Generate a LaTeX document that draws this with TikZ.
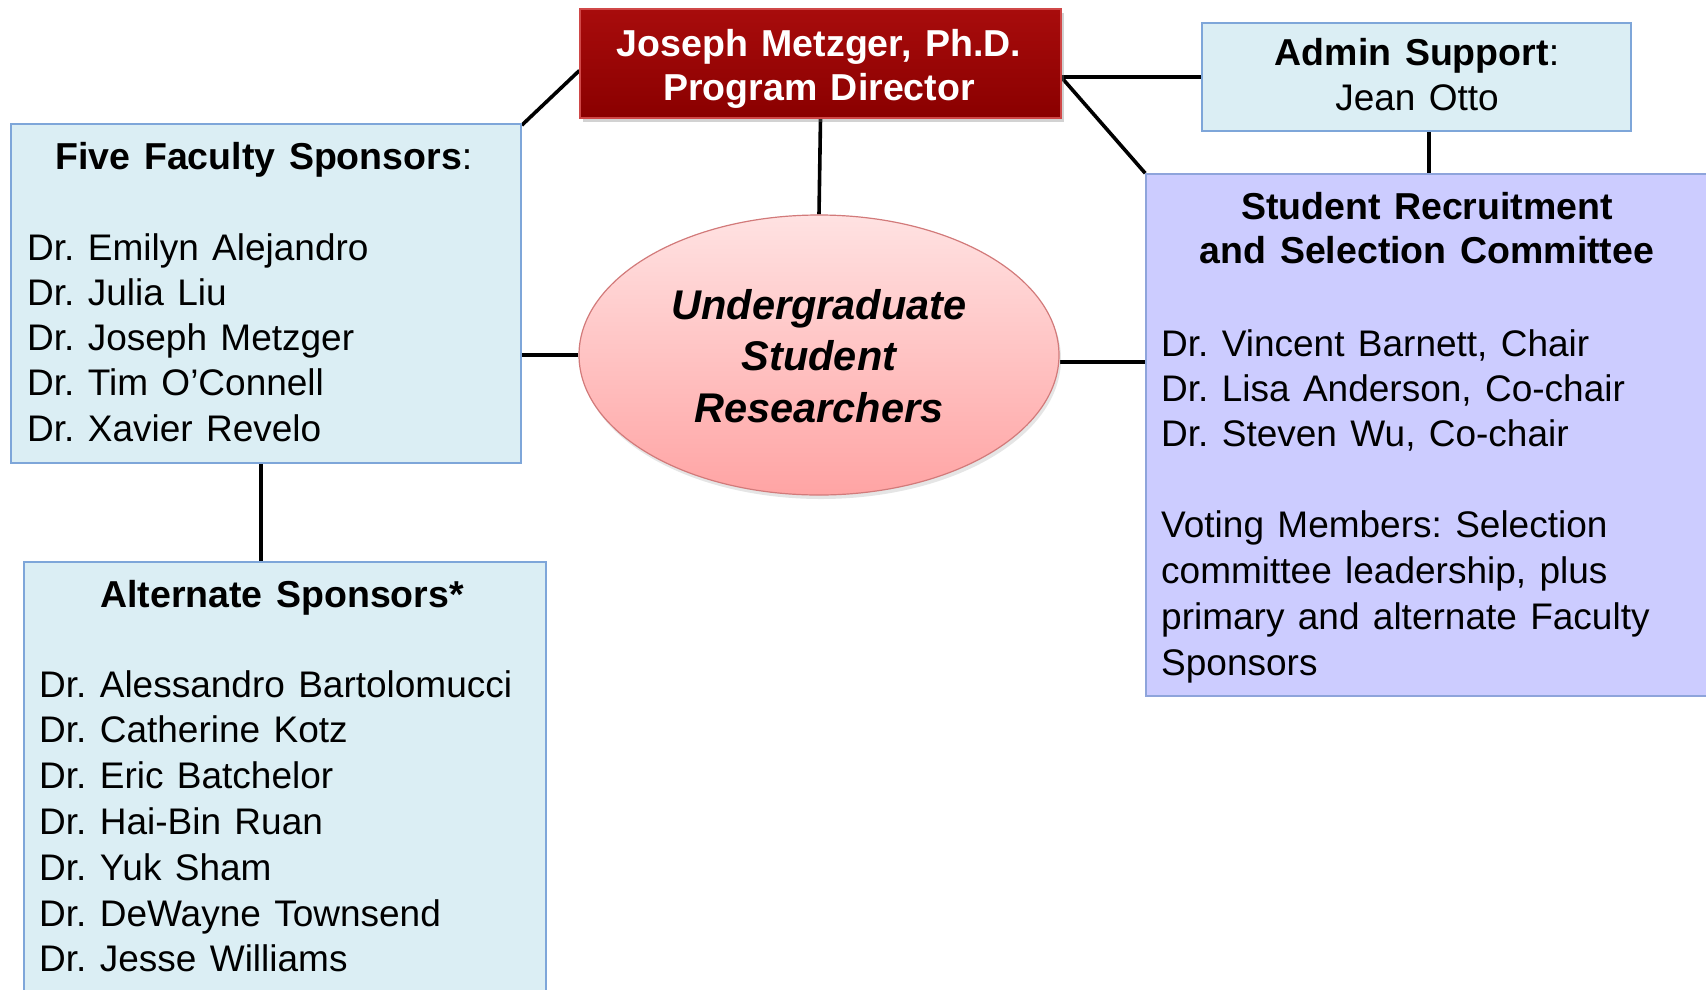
\documentclass[tikz,border=0pt]{standalone}
\usepackage{fontspec}
\setmainfont{Liberation Sans}[WordSpace=1.3]
\usetikzlibrary{shapes.geometric,shadows,calc}
\definecolor{lblue}{HTML}{DBEEF4}
\definecolor{lblueborder}{HTML}{7EA6D9}
\definecolor{lav}{HTML}{CCCCFF}
\definecolor{lavborder}{HTML}{8EA4DB}
\definecolor{dredtop}{HTML}{A80C0C}
\definecolor{dredbot}{HTML}{8A0000}
\definecolor{dredborder}{HTML}{D04848}
\definecolor{pinktop}{HTML}{FFE2E2}
\definecolor{pinkbot}{HTML}{FFA4A4}
\definecolor{pinkborder}{HTML}{D27A7A}
\pgfdeclarelayer{bg}\pgfdeclarelayer{lines}\pgfsetlayers{bg,lines,main}
\frenchspacing
\begin{document}
\begin{tikzpicture}[x=1pt,y=-1pt,
  bluebox/.style={draw=lblueborder,fill=lblue,line width=1.6pt,rectangle,inner sep=0pt},
  lavbox/.style={draw=lavborder,fill=lav,line width=1.6pt,rectangle,inner sep=0pt},
  txt/.style={font=\fontsize{37}{44}\selectfont,inner sep=0pt,anchor=base west},
  ttl/.style={font=\fontsize{37.5}{44}\selectfont\bfseries,inner sep=0pt,anchor=base},
  elltxt/.style={font=\fontsize{41.5}{52}\selectfont\bfseries\itshape,inner sep=0pt,anchor=base},
  conn/.style={line width=3.6pt,black}]
\useasboundingbox (0,0) rectangle (1706,989);
\begin{pgfonlayer}{bg}
\fill[white] (0,0) rectangle (1706,989);
\end{pgfonlayer}

% boxes
\node[rectangle,draw=dredborder,line width=1.2pt,top color=dredtop,bottom color=dredbot,
  minimum width=481pt,minimum height=109pt,inner sep=0pt,
  drop shadow={opacity=0.35,shadow xshift=3pt,shadow yshift=-4pt}] (dir) at (820.5,63.5) {};
\node[bluebox,minimum width=429pt,minimum height=108pt] (adm) at (1416.5,77) {};
\node[lavbox,minimum width=566pt,minimum height=522pt] (sr) at (1429,435) {};
\node[bluebox,minimum width=510pt,minimum height=339pt] (fac) at (266,293.5) {};
\node[bluebox,minimum width=522pt,minimum height=438pt] (alt) at (285,781) {};
\node[ellipse,draw=pinkborder,line width=1.2pt,top color=pinktop,bottom color=pinkbot,
  minimum width=480pt,minimum height=280pt,inner sep=0pt,
  drop shadow={opacity=0.2,shadow xshift=2pt,shadow yshift=-4pt}] (ell) at (819,355) {};

% connectors
\begin{pgfonlayer}{lines}
\draw[conn] ([yshift=-7pt]dir.west) -- ([yshift=-2pt]fac.north east);
\draw[conn] (dir.south) -- (ell.north);
\draw[conn] (adm.west) -- (adm.west -| dir.east);
\draw[conn] ([yshift=-14pt]dir.east) -- (sr.north west);
\draw[conn] (sr.north) -- (sr.north |- adm.south);
\draw[conn] (ell.west) -- (ell.west -| fac.east);
\draw[conn] ([yshift=-7pt]ell.east) coordinate (e1) -- (e1 -| sr.west);
\draw[conn] ([xshift=-5pt]fac.south) coordinate (f1) -- (f1 |- alt.north);
\end{pgfonlayer}

% director text
\node[ttl,text=white] (dir1) at (819,56) {Joseph Metzger, Ph.D.};
\node[ttl,text=white] (dir2) at (819,100) {Program Director};

% admin text
\node[ttl] (adm1) at (1417,65) {Admin Support\mdseries:};
\node[txt,anchor=base] (adm2) at (1417,110) {Jean Otto};

% ellipse text
\node[elltxt] (ell1) at (819,319) {Undergraduate};
\node[elltxt] (ell2) at (819,370) {Student};
\node[elltxt] (ell3) at (819,422) {Researchers};

% faculty
\node[ttl] (fact) at (264,169) {Five Faculty Sponsors\mdseries:};
\foreach \t [count=\i from 0] in {Dr. Emilyn Alejandro, Dr. Julia Liu, Dr. Joseph Metzger, Dr. Tim O’Connell, Dr. Xavier Revelo}
  \node[txt] (fac\i) at (27,260+45.3*\i) {\t};

% alternate
\node[ttl] (altt) at (282,607) {Alternate Sponsors*};
\foreach \t [count=\i from 0] in {Dr. Alessandro Bartolomucci, Dr. Catherine Kotz, Dr. Eric Batchelor, Dr. Hai-Bin Ruan, Dr. Yuk Sham, Dr. DeWayne Townsend, Dr. Jesse Williams}
  \node[txt] (alt\i) at (39,697+45.8*\i) {\t};

% student recruitment
\node[ttl] (srt1) at (1427,219) {Student Recruitment};
\node[ttl] (srt2) at (1427,263) {and Selection Committee};
\foreach \t [count=\i from 0] in {{Dr. Vincent Barnett, Chair}, {Dr. Lisa Anderson, Co-chair}, {Dr. Steven Wu, Co-chair}}
  \node[txt] (sr\i) at (1161,356+45*\i) {\t};
\foreach \t [count=\i from 0] in {{Voting Members: Selection}, {committee leadership, plus}, {primary and alternate Faculty}, {Sponsors}}
  \node[txt] (srv\i) at (1161,537+46*\i) {\t};
\end{tikzpicture}
\end{document}
